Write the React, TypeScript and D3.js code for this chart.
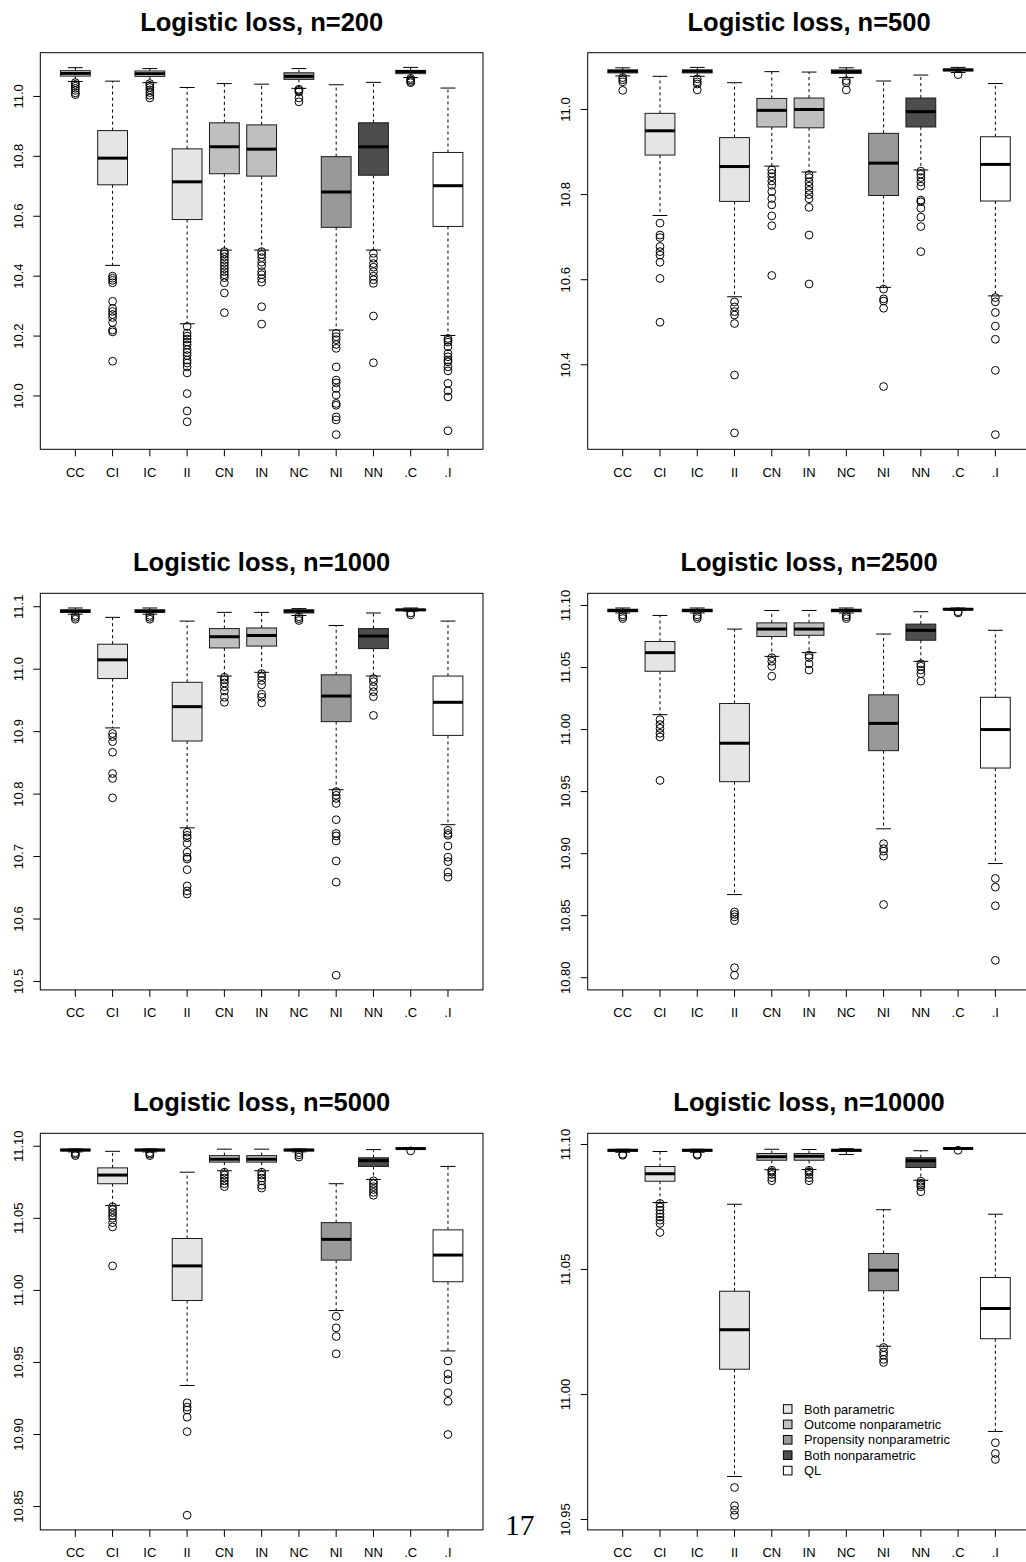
import React from "react";
import * as d3 from "d3";

// ---------------- DATA ----------------
const categories = ["CC", "CI", "IC", "II", "CN", "IN", "NC", "NI", "NN", ".C", ".I"];
const categoryGroup = [0, 0, 0, 0, 1, 1, 2, 2, 3, 4, 4];
const groupLabels = ["Both parametric", "Outcome nonparametric", "Propensity nonparametric", "Both nonparametric", "QL"];
const sampleSizes = [200, 500, 1000, 2500, 5000, 10000];

// each box: [lower whisker, Q1, median, Q3, upper whisker]
const stats200 = [
  [11.05, 11.068, 11.077, 11.086, 11.096],
  [10.436, 10.705, 10.794, 10.886, 11.051],
  [11.046, 11.067, 11.076, 11.085, 11.093],
  [10.241, 10.589, 10.715, 10.825, 11.03],
  [10.487, 10.742, 10.832, 10.912, 11.043],
  [10.487, 10.734, 10.824, 10.905, 11.041],
  [11.027, 11.057, 11.067, 11.079, 11.093],
  [10.22, 10.563, 10.681, 10.799, 11.039],
  [10.487, 10.737, 10.832, 10.912, 11.047],
  [11.063, 11.076, 11.083, 11.087, 11.097],
  [10.202, 10.566, 10.702, 10.813, 11.028],
];
const outliers200 = [
  [11.046, 11.04, 11.034, 11.027, 11.02, 11.012, 11.006],
  [10.4, 10.393, 10.386, 10.378, 10.316, 10.292, 10.282, 10.272, 10.262, 10.245, 10.22, 10.214, 10.116],
  [11.043, 11.037, 11.03, 11.022, 11.013, 11.004, 10.995],
  [10.232, 10.21, 10.2, 10.19, 10.18, 10.17, 10.155, 10.145, 10.135, 10.12, 10.11, 10.097, 10.077, 10.008, 9.95, 9.914],
  [10.482, 10.474, 10.465, 10.455, 10.445, 10.435, 10.425, 10.415, 10.405, 10.395, 10.378, 10.344, 10.278],
  [10.482, 10.472, 10.462, 10.447, 10.435, 10.415, 10.405, 10.392, 10.38, 10.298, 10.24],
  [11.024, 11.02, 11.015, 10.995, 10.982],
  [10.209, 10.198, 10.188, 10.172, 10.159, 10.097, 10.053, 10.044, 10.025, 10.003, 9.975, 9.969, 9.93, 9.92, 9.871],
  [10.476, 10.46, 10.442, 10.43, 10.415, 10.4, 10.388, 10.376, 10.267, 10.111],
  [11.06, 11.055, 11.05, 11.046],
  [10.192, 10.186, 10.18, 10.164, 10.142, 10.131, 10.12, 10.114, 10.097, 10.084, 10.042, 10.017, 9.997, 9.884],
];
const yTicks200 = ["10.0", "10.2", "10.4", "10.6", "10.8", "11.0"];

const stats500 = [
  [11.079, 11.086, 11.09, 11.093, 11.098],
  [10.751, 10.893, 10.95, 10.991, 11.078],
  [11.078, 11.086, 11.09, 11.093, 11.099],
  [10.56, 10.784, 10.866, 10.934, 11.063],
  [10.867, 10.959, 10.998, 11.026, 11.089],
  [10.853, 10.957, 11.0, 11.027, 11.088],
  [11.075, 11.085, 11.089, 11.093, 11.098],
  [10.582, 10.798, 10.874, 10.944, 11.067],
  [10.858, 10.959, 10.995, 11.027, 11.081],
  [11.087, 11.091, 11.093, 11.095, 11.099],
  [10.562, 10.785, 10.871, 10.936, 11.061],
];
const outliers500 = [
  [11.075, 11.07, 11.065, 11.045],
  [10.733, 10.705, 10.699, 10.678, 10.666, 10.658, 10.641, 10.603, 10.5],
  [11.072, 11.065, 11.06, 11.046],
  [10.548, 10.536, 10.525, 10.517, 10.497, 10.376, 10.24],
  [10.858, 10.85, 10.842, 10.832, 10.822, 10.807, 10.791, 10.776, 10.75, 10.727, 10.61],
  [10.847, 10.84, 10.83, 10.82, 10.81, 10.8, 10.79, 10.77, 10.705, 10.59],
  [11.068, 11.063, 11.046],
  [10.578, 10.555, 10.55, 10.533, 10.349],
  [10.855, 10.848, 10.84, 10.83, 10.82, 10.787, 10.783, 10.768, 10.747, 10.725, 10.666],
  [11.082],
  [10.558, 10.548, 10.523, 10.491, 10.46, 10.387, 10.236],
];
const yTicks500 = ["10.4", "10.6", "10.8", "11.0"];

const stats1000 = [
  [11.088, 11.091, 11.093, 11.095, 11.098],
  [10.906, 10.985, 11.015, 11.04, 11.083],
  [11.088, 11.091, 11.093, 11.095, 11.098],
  [10.746, 10.885, 10.94, 10.979, 11.077],
  [10.989, 11.034, 11.052, 11.065, 11.091],
  [10.995, 11.037, 11.054, 11.066, 11.091],
  [11.086, 11.09, 11.093, 11.095, 11.097],
  [10.807, 10.916, 10.957, 10.991, 11.07],
  [10.989, 11.033, 11.053, 11.065, 11.09],
  [11.093, 11.094, 11.095, 11.096, 11.098],
  [10.751, 10.894, 10.947, 10.989, 11.077],
];
const outliers1000 = [
  [11.086, 11.083, 11.08],
  [10.897, 10.892, 10.884, 10.867, 10.833, 10.825, 10.794],
  [11.086, 11.083, 11.08],
  [10.739, 10.734, 10.73, 10.721, 10.707, 10.699, 10.696, 10.679, 10.653, 10.645, 10.64],
  [10.987, 10.983, 10.978, 10.972, 10.965, 10.955, 10.947],
  [10.993, 10.988, 10.982, 10.975, 10.96, 10.955, 10.946],
  [11.084, 11.081, 11.078],
  [10.804, 10.798, 10.793, 10.785, 10.759, 10.737, 10.733, 10.725, 10.693, 10.659, 10.51],
  [10.985, 10.98, 10.972, 10.964, 10.956, 10.926],
  [11.09, 11.087],
  [10.742, 10.737, 10.734, 10.717, 10.699, 10.692, 10.675, 10.667],
];
const yTicks1000 = ["10.5", "10.6", "10.7", "10.8", "10.9", "11.0", "11.1"];

const stats2500 = [
  [11.094, 11.095, 11.096, 11.097, 11.098],
  [11.012, 11.047, 11.062, 11.071, 11.092],
  [11.094, 11.095, 11.096, 11.097, 11.098],
  [10.867, 10.958, 10.989, 11.021, 11.081],
  [11.059, 11.075, 11.081, 11.086, 11.096],
  [11.062, 11.076, 11.081, 11.086, 11.096],
  [11.094, 11.095, 11.096, 11.097, 11.098],
  [10.92, 10.983, 11.005, 11.028, 11.077],
  [11.055, 11.072, 11.08, 11.085, 11.095],
  [11.096, 11.0965, 11.097, 11.0975, 11.098],
  [10.892, 10.969, 11.0, 11.026, 11.08],
];
const outliers2500 = [
  [11.0925, 11.091, 11.0895],
  [11.008, 11.004, 11.001, 10.997, 10.994, 10.959],
  [11.0925, 11.091, 11.0895],
  [10.853, 10.851, 10.849, 10.846, 10.808, 10.802],
  [11.058, 11.055, 11.051, 11.043],
  [11.06, 11.058, 11.053, 11.048],
  [11.0925, 11.091, 11.0895],
  [10.908, 10.904, 10.902, 10.898, 10.859],
  [11.053, 11.051, 11.048, 11.045, 11.039],
  [11.095, 11.094],
  [10.88, 10.873, 10.858, 10.814],
];
const yTicks2500 = ["10.80", "10.85", "10.90", "10.95", "11.00", "11.05", "11.10"];

const stats5000 = [
  [11.0961, 11.0968, 11.0974, 11.0979, 11.0981],
  [11.059, 11.074, 11.08, 11.085, 11.0965],
  [11.0961, 11.0968, 11.0974, 11.0979, 11.0981],
  [10.934, 10.993, 11.017, 11.036, 11.082],
  [11.083, 11.089, 11.091, 11.0935, 11.098],
  [11.083, 11.089, 11.091, 11.0935, 11.098],
  [11.0961, 11.0968, 11.0974, 11.0979, 11.0981],
  [10.986, 11.021, 11.0354, 11.047, 11.074],
  [11.077, 11.086, 11.09, 11.092, 11.0977],
  [11.0978, 11.0982, 11.0984, 11.0986, 11.0988],
  [10.958, 11.006, 11.0245, 11.042, 11.086],
];
const outliers5000 = [
  [11.0955, 11.0945, 11.0935],
  [11.058, 11.056, 11.054, 11.052, 11.05, 11.047, 11.044, 11.017],
  [11.0955, 11.0945, 11.0935],
  [10.922, 10.919, 10.917, 10.912, 10.902, 10.844],
  [11.082, 11.08, 11.078, 11.076, 11.074, 11.072],
  [11.082, 11.08, 11.078, 11.076, 11.073, 11.071],
  [11.0955, 11.094, 11.0925],
  [10.982, 10.974, 10.968, 10.956],
  [11.076, 11.074, 11.072, 11.07, 11.068, 11.066],
  [11.0968],
  [10.951, 10.942, 10.938, 10.929, 10.923, 10.9],
];
const yTicks5000 = ["10.85", "10.90", "10.95", "11.00", "11.05", "11.10"];

const stats10000 = [
  [11.0969, 11.0973, 11.0977, 11.0979, 11.0981],
  [11.0768, 11.0853, 11.0883, 11.0912, 11.0972],
  [11.0969, 11.0973, 11.0977, 11.0979, 11.0981],
  [10.9672, 11.0101, 11.0259, 11.0413, 11.0761],
  [11.0899, 11.0937, 11.0951, 11.0964, 11.0981],
  [11.09, 11.0937, 11.0953, 11.0964, 11.098],
  [11.096, 11.0973, 11.0977, 11.0979, 11.0983],
  [11.0193, 11.0415, 11.0497, 11.0564, 11.0739],
  [11.0857, 11.0908, 11.0935, 11.0947, 11.0975],
  [11.0981, 11.0983, 11.0984, 11.0985, 11.0986],
  [10.9852, 11.0223, 11.0344, 11.0468, 11.0721],
];
const outliers10000 = [
  [11.0961, 11.0957],
  [11.0764, 11.075, 11.0737, 11.0723, 11.071, 11.0697, 11.0684, 11.0648],
  [11.0961, 11.0957],
  [10.9628, 10.9555, 10.9537, 10.9517],
  [11.0897, 11.089, 11.088, 11.0867, 11.0855],
  [11.0897, 11.089, 11.088, 11.0867, 11.0855],
  [],
  [11.0188, 11.017, 11.0157, 11.014, 11.0128],
  [11.0853, 11.0845, 11.0838, 11.0831, 11.0811],
  [11.0977],
  [10.9807, 10.9764, 10.974],
];
const yTicks10000 = ["10.95", "11.00", "11.05", "11.10"];

const pageNumber = "17";

// ---------------- STYLE / LAYOUT ----------------
const groupFills = ["#e5e5e5", "#bfbfbf", "#999999", "#4d4d4d", "#ffffff"];
const W = 1026;
const H = 1562;
const colX = [40.3, 587.7];
const rowY = [52.7, 593.3, 1133.3];
const plotW = 442.7;
const plotH = 396.6;
const FONT = "'Liberation Sans', Arial, Helvetica, sans-serif";

const panels = [
  { n: sampleSizes[0], stats: stats200, outliers: outliers200, ticks: yTicks200 },
  { n: sampleSizes[1], stats: stats500, outliers: outliers500, ticks: yTicks500 },
  { n: sampleSizes[2], stats: stats1000, outliers: outliers1000, ticks: yTicks1000 },
  { n: sampleSizes[3], stats: stats2500, outliers: outliers2500, ticks: yTicks2500 },
  { n: sampleSizes[4], stats: stats5000, outliers: outliers5000, ticks: yTicks5000 },
  { n: sampleSizes[5], stats: stats10000, outliers: outliers10000, ticks: yTicks10000 },
];

function Panel({ p, idx }: { p: any; idx: number }) {
  const x0 = colX[idx % 2];
  const y0 = rowY[Math.floor(idx / 2)];
  const all: number[] = [];
  p.stats.forEach((s: number[]) => all.push(...s));
  p.outliers.forEach((o: number[]) => all.push(...o));
  const [mn, mx] = d3.extent(all) as [number, number];
  const pad = (mx - mn) * 0.04;
  const y = d3.scaleLinear().domain([mn - pad, mx + pad]).range([y0 + plotH, y0]);
  const nCat = categories.length;
  const xpad = (nCat) * 0.04;
  const x = d3.scaleLinear().domain([0.5 - xpad, nCat + 0.5 + xpad]).range([x0, x0 + plotW]);
  const unit = x(1) - x(0);
  const halfBox = 0.4 * unit;
  const halfStaple = 0.2 * unit;
  const bottom = y0 + plotH;

  return (
    <g>
      <text
        x={x0 + plotW / 2}
        y={y0 - 22}
        textAnchor="middle"
        fontFamily={FONT}
        fontWeight="bold"
        fontSize={25.5}
        fill="#000"
      >
        {`Logistic loss, n=${p.n}`}
      </text>
      {p.stats.map((s: number[], i: number) => {
        const cx = x(i + 1);
        const [lo, q1, med, q3, hi] = s;
        const fill = groupFills[categoryGroup[i]];
        return (
          <g key={i}>
            <line x1={cx} x2={cx} y1={y(q3)} y2={y(hi)} stroke="#000" strokeWidth={1} strokeDasharray="3,3" />
            <line x1={cx} x2={cx} y1={y(q1)} y2={y(lo)} stroke="#000" strokeWidth={1} strokeDasharray="3,3" />
            <line x1={cx - halfStaple} x2={cx + halfStaple} y1={y(hi)} y2={y(hi)} stroke="#000" strokeWidth={1} />
            <line x1={cx - halfStaple} x2={cx + halfStaple} y1={y(lo)} y2={y(lo)} stroke="#000" strokeWidth={1} />
            <rect
              x={cx - halfBox}
              y={y(q3)}
              width={2 * halfBox}
              height={Math.max(0.5, y(q1) - y(q3))}
              fill={fill}
              stroke="#1a1a1a"
              strokeWidth={1}
            />
            <line x1={cx - halfBox} x2={cx + halfBox} y1={y(med)} y2={y(med)} stroke="#000" strokeWidth={3} />
            {p.outliers[i].map((v: number, j: number) => (
              <circle key={j} cx={cx} cy={y(v)} r={3.9} fill="none" stroke="#000" strokeWidth={1} />
            ))}
          </g>
        );
      })}
      <rect x={x0} y={y0} width={plotW} height={plotH} fill="none" stroke="#000" strokeWidth={1} />
      {categories.map((c, i) => (
        <g key={c}>
          <line x1={x(i + 1)} x2={x(i + 1)} y1={bottom} y2={bottom + 7} stroke="#000" strokeWidth={1} />
          <text x={x(i + 1)} y={bottom + 27.4} textAnchor="middle" fontFamily={FONT} fontSize={13} fill="#000">
            {c}
          </text>
        </g>
      ))}
      {p.ticks.map((t: string) => {
        const ty = y(+t);
        return (
          <g key={t}>
            <line x1={x0 - 7} x2={x0} y1={ty} y2={ty} stroke="#000" strokeWidth={1} />
            <text
              transform={`translate(${x0 - 17.5},${ty}) rotate(-90)`}
              textAnchor="middle"
              fontFamily={FONT}
              fontSize={13}
              fill="#000"
            >
              {t}
            </text>
          </g>
        );
      })}
    </g>
  );
}

export default function App() {
  return (
    <svg
      width={W}
      height={H}
      viewBox={`0 0 ${W} ${H}`}
      style={{ position: "absolute", left: 0, top: 0, background: "#fff" }}
    >
      <rect x={0} y={0} width={W} height={H} fill="#fff" />
      {panels.map((p, i) => (
        <Panel key={p.n} p={p} idx={i} />
      ))}
      {groupLabels.map((g, i) => {
        const cy = 1409 + i * 15.4;
        return (
          <g key={g}>
            <rect x={783.4} y={cy - 4.3} width={8.6} height={8.6} fill={groupFills[i]} stroke="#000" strokeWidth={1} />
            <text x={804} y={cy + 4.5} fontFamily={FONT} fontSize={12.8} fill="#000">
              {g}
            </text>
          </g>
        );
      })}
      <text x={505} y={1535} fontFamily="'Liberation Serif', 'Times New Roman', serif" fontSize={29.6} fill="#000">
        {pageNumber}
      </text>
    </svg>
  );
}
